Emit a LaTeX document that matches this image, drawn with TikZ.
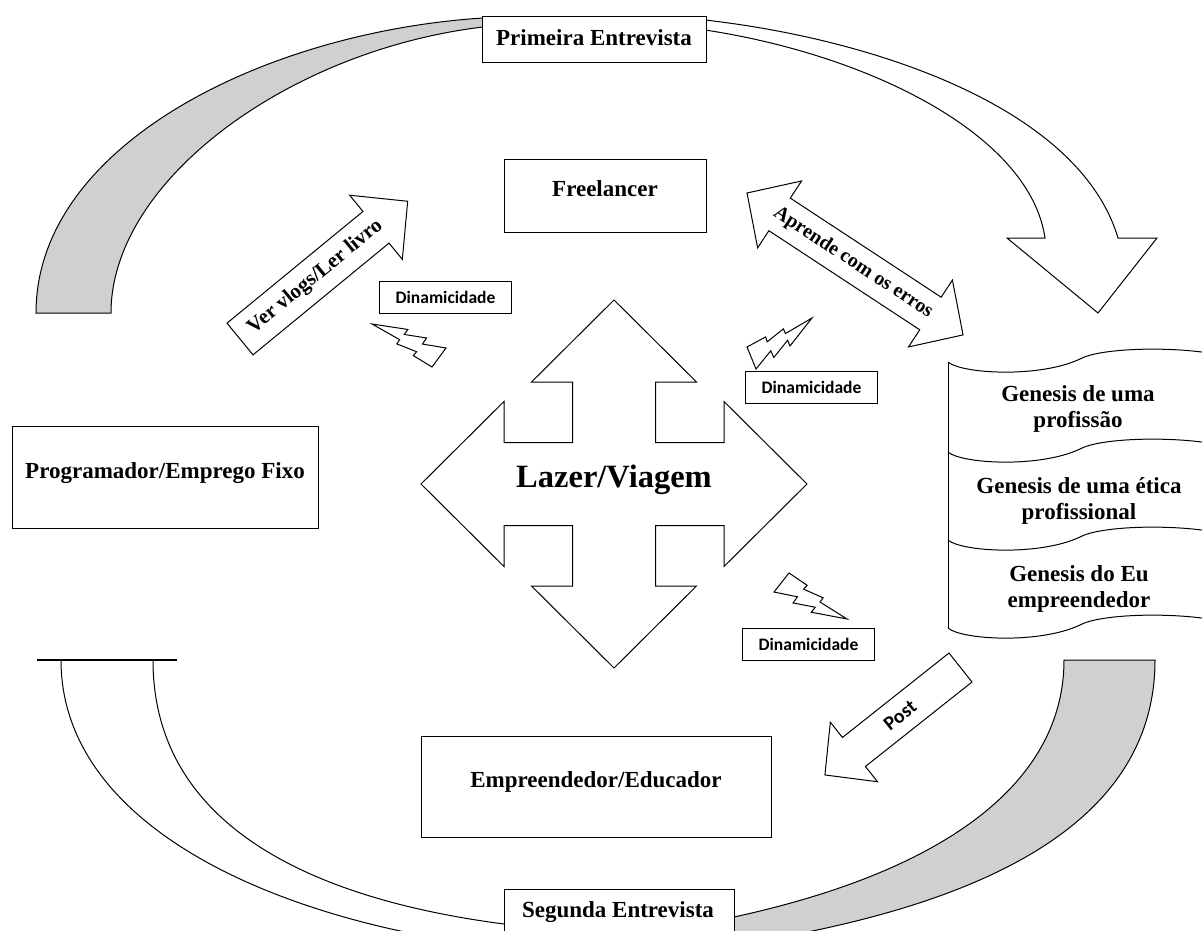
\documentclass[tikz,border=0pt]{standalone}
\usepackage{fontspec}
\setmainfont{Liberation Serif}
\newfontfamily\calfont{Carlito}
\usetikzlibrary{calc}
\definecolor{bandgray}{RGB}{208,208,208}
\newcommand\mybolt[4]{%
  \coordinate (#1O) at ($0.36174*(#2)+0.77991*(#3)-0.14165*(#4)$);
  \coordinate (#1a) at ($(#2)-(#1O)$);
  \coordinate (#1b) at ($(#3)-(#1O)$);
  \draw[boltsty] ($(#1O)+1*(#1a)$) -- ($(#1O)+1*(#1b)$)
   -- ($(#1O)+0.8943*(#1a)+2.1453*(#1b)$)
   -- ($(#1O)+0.5903*(#1a)+2.4777*(#1b)$)
   -- ($(#1O)+1.4421*(#1a)+3.5443*(#1b)$)
   -- ($(#1O)+1.1808*(#1a)+3.8068*(#1b)$)
   -- (#4)
   -- ($(#1O)+1.7460*(#1a)+3.2911*(#1b)$)
   -- ($(#1O)+1.9577*(#1a)+3.0630*(#1b)$)
   -- ($(#1O)+1.3041*(#1a)+1.7436*(#1b)$)
   -- ($(#1O)+1.5274*(#1a)+1.5600*(#1b)$)
   -- cycle;}
\begin{document}
\begin{tikzpicture}[x=1pt,y=-1pt,line join=miter,
  lw/.style={line width=1pt},
  band/.style={line width=1pt,fill=bandgray},
  shapesty/.style={line width=1pt,fill=white},
  boltsty/.style={line width=1pt,fill=white},
  box/.style={draw,line width=1.1pt,fill=white,anchor=north west,inner sep=0pt},
  lbl/.style={font=\fontsize{23}{26}\selectfont\bfseries,align=center,inner sep=0pt},
  atext/.style={font=\fontsize{21}{24}\selectfont\bfseries,inner sep=0pt},
  dyn/.style={draw,line width=1pt,fill=white,anchor=north west,minimum width=132pt,minimum height=32pt,inner sep=0pt,font=\calfont\fontsize{17.5}{20}\selectfont\bfseries}]
\clip (0,0) rectangle (1202,931);
\fill[white] (0,0) rectangle (1202,931);

% top-left gray band
\draw[band] (36,313) .. controls (36,145) and (265,32) .. (483,18) -- (483,27)
  .. controls (290,50) and (111,180) .. (111,313) -- cycle;

% top-right curved white arrow
\draw[shapesty] (705,20) .. controls (880,40) and (1080,110) .. (1118,238)
  -- (1157,238) -- (1098,313) -- (1007,238) -- (1045,238)
  .. controls (1030,135) and (870,55) .. (705,30) -- cycle;

% bottom-right gray band
\draw[band] (1064,660) -- (1155,660) .. controls (1155,800) and (1030,900) .. (734,945)
  -- (734,917) .. controls (950,870) and (1064,780) .. (1064,660) -- cycle;

% bottom-left open curves
\draw[lw] (61,660) .. controls (61,820) and (260,915) .. (480,945);
\draw[lw] (153,660) .. controls (153,830) and (320,900) .. (504,924);
\draw[line width=2pt] (37,660) -- (177,660);

% boxes
\node[box,minimum width=224pt,minimum height=46pt] (prim) at (482,16) {};
\node[lbl] (primT) at (594,38) {Primeira Entrevista};
\node[box,minimum width=202pt,minimum height=73pt] (free) at (504,159) {};
\node[lbl] (freeT) at (605,189) {Freelancer};
\node[box,minimum width=306pt,minimum height=102pt] (prog) at (12,426) {};
\node[lbl] (progT) at (165,473) {Programador/Emprego Fixo};
\node[box,minimum width=350pt,minimum height=101pt] (empr) at (421,736) {};
\node[lbl] (emprT) at (596,782) {Empreendedor/Educador};
\node[box,minimum width=230pt,minimum height=70pt] (seg) at (504,889) {};
\node[lbl] (segT) at (618,912) {Segunda Entrevista};

% central cross arrow
\begin{scope}[shift={(614,484)}]
\draw[shapesty] (-41.5,-41.5) -- (-41.5,-102) -- (-82.5,-102) -- (0,-184) -- (82.5,-102)
  -- (41.5,-102) -- (41.5,-41.5) -- (110,-41.5) -- (110,-82.5) -- (193,0) -- (110,82.5)
  -- (110,41.5) -- (41.5,41.5) -- (41.5,102) -- (82.5,102) -- (0,184) -- (-82.5,102)
  -- (-41.5,102) -- (-41.5,41.5) -- (-110,41.5) -- (-110,82.5) -- (-193,0) -- (-110,-82.5)
  -- (-110,-41.5) -- cycle;
\end{scope}
\node[font=\fontsize{32.5}{36}\selectfont\bfseries,inner sep=0pt] (lazer) at (614,480) {Lazer/Viagem};

% Ver vlogs arrow
\begin{scope}[shift={(240,339)},rotate=39.4]
\draw[shapesty] (0,-20.5) -- (176,-20.5) -- (176,-41.5) -- (217,0) -- (176,41.5) -- (176,20.5) -- (0,20.5) -- cycle;
\node[atext,rotate=39.4] (vlogT) at (97.6,0) {Ver vlogs/Ler livro};
\end{scope}

% Aprende double arrow
\begin{scope}[shift={(747,193)},rotate=-33.3]
\draw[shapesty] (0,0) -- (39,40) -- (39,19.5) -- (219.5,19.5) -- (219.5,40) -- (258.5,0)
  -- (219.5,-40) -- (219.5,-19.5) -- (39,-19.5) -- (39,-40) -- cycle;
\node[atext,font=\fontsize{20}{23}\selectfont\bfseries,rotate=-33.3] (aprT) at (127,0) {Aprende com os erros};
\end{scope}

% Post arrow
\begin{scope}[shift={(960.5,667.5)},rotate=218.4]
\draw[shapesty] (0,-18.5) -- (136,-18.5) -- (136,-38) -- (173,0) -- (136,38) -- (136,18.5) -- (0,18.5) -- cycle;
\node[font=\calfont\fontsize{20}{22}\selectfont\bfseries,inner sep=0pt,rotate=38.4] (postT) at (77,0) {Post};
\end{scope}

% Dinamicidade boxes
\node[dyn] (d1) at (379,281) {Dinamicidade};
\node[dyn] (d2) at (745,371) {Dinamicidade};
\node[dyn] (d3) at (742,628) {Dinamicidade};

% lightning bolts
\mybolt{bA}{432,367}{446,348}{372,324}
\mybolt{bB}{747,347}{756,369}{812,318}
\mybolt{bC}{789,573}{774,592}{847,619}

% Genesis scroll
\draw[lw] (948,362) -- (948,628);
\foreach \yy in {362,452,540,628}{
  \draw[lw] (948,\yy) .. controls (962,\yy+12) and (1040,\yy+16) .. (1080,\yy-3)
    .. controls (1100,\yy-14) and (1170,\yy-16) .. (1215,\yy-8);
}
\node[lbl] (g1) at (1078,409) {Genesis de uma\\profissão};
\node[lbl] (g2) at (1079,501) {Genesis de uma ética\\profissional};
\node[lbl] (g3) at (1079,589) {Genesis do Eu\\empreendedor};
\end{tikzpicture}
\end{document}
